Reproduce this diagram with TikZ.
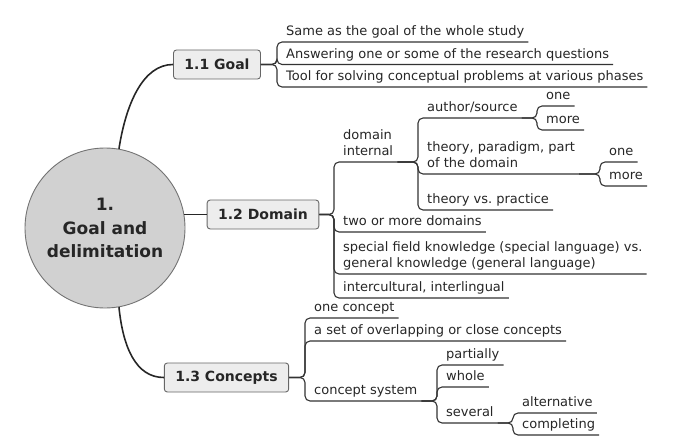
\documentclass[tikz,border=0pt]{standalone}
\usepackage{fontspec}
\setmainfont{DejaVu Sans}
\frenchspacing
\begin{document}
\begin{tikzpicture}[x=1pt,y=-1pt,
    topic/.style={draw=black!60,fill=black!7,rounded corners=3pt,line width=0.9pt,minimum height=29pt,inner xsep=11pt,font=\fontsize{14}{16}\selectfont\bfseries,text=black!85},
    leaf/.style={anchor=south west,inner xsep=4pt,inner ysep=3pt,text depth=3pt,align=left,font=\fontsize{13}{16.5}\selectfont,text=black!85},
    branch/.style={draw=black!80,line width=1.1pt,rounded corners=5pt},
    limb/.style={draw=black!85,line width=1.6pt}]
    \useasboundingbox (0,0) rectangle (687,441);
    % centre
    \node[circle,draw=black!55,fill=black!18,line width=0.9pt,minimum size=160pt,inner sep=0pt,align=center,font=\fontsize{17}{23.5}\selectfont\bfseries,text=black!85] (main) at (105,228) {1.\\Goal and\\delimitation};
    \node[topic] (goal) at (217,64.5) {1.1 Goal};
    \node[topic] (domain) at (263,214.5) {1.2 Domain};
    \node[topic] (concepts) at (226.5,377.5) {1.3 Concepts};
    \draw[limb] (main.80) .. controls +(7,-45) and +(-30,0) .. (goal.west);
    \draw[limb] (domain.west) -- (main.10 |- domain.west);
    \draw[limb] (main.-80) .. controls +(4,40) and +(-28,0) .. (concepts.west);
    % 1.1
    \node[leaf] (g1) at (282,42) {Same as the goal of the whole study};
    \node[leaf] (g2) at (282,64.5) {Answering one or some of the research questions};
    \node[leaf] (g3) at (282,87) {Tool for solving conceptual problems at various phases};
    \foreach \n in {g1,g2,g3}
        \draw[branch] (goal.east) -| ([xshift=-5pt]\n.south west) -- (\n.south east);
    % 1.2
    \node[leaf] (d1) at (339,162) {domain\\internal};
    \node[leaf] (d2) at (339,232) {two or more domains};
    \node[leaf] (d3) at (339,274) {special field knowledge (special language) vs.\\general knowledge (general language)};
    \node[leaf] (d4) at (339,298) {intercultural, interlingual};
    \foreach \n in {d1,d2,d3,d4}
        \draw[branch] (domain.east) -| ([xshift=-5pt]\n.south west) -- (\n.south east);
    \node[leaf] (a1) at (423,118) {author/source};
    \node[leaf] (a2) at (423,174) {theory, paradigm, part\\of the domain};
    \node[leaf] (a3) at (423,210) {theory vs. practice};
    \foreach \n in {a1,a2,a3}
        \draw[branch] (d1.south east) -| ([xshift=-5pt]\n.south west) -- (\n.south east);
    \node[leaf] (s1) at (542,106) {one};
    \node[leaf] (s2) at (542,130) {more};
    \foreach \n in {s1,s2}
        \draw[branch] (a1.south east) -| ([xshift=-5pt]\n.south west) -- (\n.south east);
    \node[leaf] (t1) at (605,162) {one};
    \node[leaf] (t2) at (605,186) {more};
    \foreach \n in {t1,t2}
        \draw[branch] (a2.south east) -| ([xshift=-5pt]\n.south west) -- (\n.south east);
    % 1.3
    \node[leaf] (c1) at (310,318) {one concept};
    \node[leaf] (c2) at (310,341) {a set of overlapping or close concepts};
    \node[leaf] (c3) at (310,401) {concept system};
    \foreach \n in {c1,c2,c3}
        \draw[branch] (concepts.east) -| ([xshift=-5pt]\n.south west) -- (\n.south east);
    \node[leaf] (p1) at (442,365) {partially};
    \node[leaf] (p2) at (442,387) {whole};
    \node[leaf] (p3) at (442,423) {several};
    \foreach \n in {p1,p2,p3}
        \draw[branch] (c3.south east) -| ([xshift=-5pt]\n.south west) -- (\n.south east);
    \node[leaf] (v1) at (518,413) {alternative};
    \node[leaf] (v2) at (518,435) {completing};
    \foreach \n in {v1,v2}
        \draw[branch] (p3.south east) -| ([xshift=-5pt]\n.south west) -- (\n.south east);
\end{tikzpicture}
\end{document}
